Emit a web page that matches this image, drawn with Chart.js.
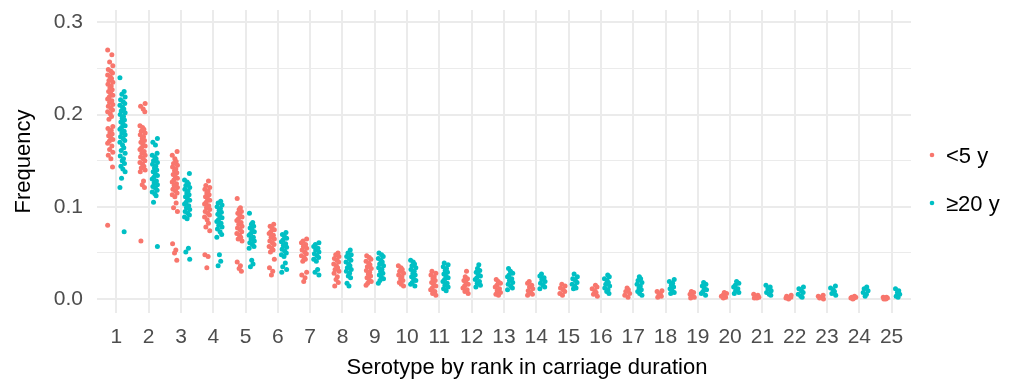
<!DOCTYPE html>
<html>
<head>
<meta charset="utf-8">
<script src="https://cdn.jsdelivr.net/npm/chart.js@4/dist/chart.umd.min.js"></script>
<style>
  html, body { margin: 0; padding: 0; background: #ffffff; }
  #wrap { width: 1012px; height: 381px; position: relative; }
</style>
</head>
<body>
<div id="wrap"><canvas id="chart" width="1012" height="381"></canvas></div>
<script>
// Serotype rank (x categories)
const ranks = [1, 2, 3, 4, 5, 6, 7, 8, 9, 10, 11, 12, 13, 14, 15, 16, 17, 18, 19, 20, 21, 22, 23, 24, 25];

// Simulated serotype frequencies, age group < 5 years (one list per rank)
const under5 = [
  [0.270, 0.265, 0.257, 0.253, 0.249, 0.247, 0.245, 0.243, 0.241, 0.239, 0.237, 0.235, 0.233, 0.231, 0.229, 0.227, 0.225, 0.223, 0.221, 0.219, 0.217, 0.215, 0.213, 0.211, 0.209, 0.207, 0.205, 0.203, 0.201, 0.198, 0.195, 0.187, 0.185, 0.183, 0.181, 0.179, 0.177, 0.175, 0.173, 0.171, 0.169, 0.166, 0.162, 0.159, 0.156, 0.152, 0.143, 0.080],
  [0.212, 0.209, 0.206, 0.203, 0.188, 0.186, 0.184, 0.182, 0.180, 0.178, 0.176, 0.174, 0.172, 0.170, 0.168, 0.166, 0.164, 0.162, 0.160, 0.158, 0.156, 0.154, 0.152, 0.150, 0.148, 0.146, 0.144, 0.142, 0.140, 0.138, 0.128, 0.124, 0.121, 0.063],
  [0.160, 0.156, 0.152, 0.149, 0.147, 0.145, 0.143, 0.141, 0.139, 0.137, 0.135, 0.133, 0.131, 0.129, 0.127, 0.125, 0.123, 0.121, 0.119, 0.117, 0.115, 0.113, 0.111, 0.104, 0.099, 0.095, 0.060, 0.053, 0.050, 0.042],
  [0.128, 0.123, 0.121, 0.119, 0.117, 0.115, 0.113, 0.111, 0.109, 0.107, 0.105, 0.103, 0.101, 0.099, 0.097, 0.095, 0.093, 0.091, 0.089, 0.086, 0.082, 0.078, 0.074, 0.048, 0.046, 0.034],
  [0.109, 0.099, 0.097, 0.095, 0.093, 0.091, 0.089, 0.087, 0.085, 0.083, 0.081, 0.079, 0.077, 0.075, 0.073, 0.071, 0.069, 0.067, 0.065, 0.063, 0.040, 0.036, 0.033, 0.030],
  [0.081, 0.079, 0.077, 0.075, 0.073, 0.071, 0.069, 0.067, 0.065, 0.063, 0.061, 0.059, 0.057, 0.055, 0.053, 0.051, 0.043, 0.034, 0.030, 0.026],
  [0.065, 0.063, 0.061, 0.059, 0.057, 0.055, 0.053, 0.051, 0.049, 0.047, 0.045, 0.043, 0.041, 0.029, 0.026, 0.023, 0.019],
  [0.050, 0.048, 0.046, 0.044, 0.042, 0.040, 0.038, 0.036, 0.034, 0.032, 0.030, 0.028, 0.024, 0.021, 0.018, 0.014],
  [0.047, 0.045, 0.043, 0.041, 0.039, 0.037, 0.035, 0.033, 0.031, 0.029, 0.027, 0.025, 0.023, 0.021, 0.019, 0.017, 0.015],
  [0.036, 0.034, 0.032, 0.030, 0.028, 0.026, 0.024, 0.022, 0.020, 0.018, 0.016, 0.014],
  [0.030, 0.028, 0.026, 0.024, 0.022, 0.020, 0.018, 0.016, 0.014, 0.012, 0.010, 0.008, 0.006, 0.004],
  [0.030, 0.024, 0.022, 0.020, 0.018, 0.016, 0.014, 0.012, 0.010, 0.008, 0.006],
  [0.021, 0.019, 0.017, 0.015, 0.013, 0.011, 0.009, 0.007, 0.005, 0.004],
  [0.019, 0.017, 0.015, 0.013, 0.011, 0.009, 0.007, 0.005, 0.004],
  [0.016, 0.014, 0.012, 0.010, 0.008, 0.006, 0.004],
  [0.015, 0.013, 0.011, 0.009, 0.007, 0.005, 0.003],
  [0.012, 0.010, 0.008, 0.006, 0.004, 0.002],
  [0.009, 0.008, 0.006, 0.005, 0.003, 0.002],
  [0.008, 0.007, 0.005, 0.004, 0.002, 0.001],
  [0.007, 0.006, 0.004, 0.003, 0.002, 0.001],
  [0.005, 0.004, 0.003, 0.002, 0.001, 0.001],
  [0.004, 0.003, 0.002, 0.002, 0.001, 0.000],
  [0.004, 0.003, 0.002, 0.002, 0.001, 0.000],
  [0.003, 0.002, 0.002, 0.001, 0.001, 0.000],
  [0.002, 0.002, 0.001, 0.001, 0.000, 0.000]
];

// Simulated serotype frequencies, age group >= 20 years (one list per rank)
const over20 = [
  [0.240, 0.225, 0.222, 0.219, 0.216, 0.214, 0.212, 0.210, 0.208, 0.206, 0.204, 0.202, 0.200, 0.198, 0.196, 0.194, 0.192, 0.190, 0.188, 0.186, 0.184, 0.182, 0.180, 0.178, 0.176, 0.174, 0.172, 0.170, 0.167, 0.164, 0.161, 0.158, 0.155, 0.152, 0.150, 0.147, 0.144, 0.141, 0.138, 0.131, 0.121, 0.073],
  [0.174, 0.170, 0.167, 0.158, 0.156, 0.154, 0.152, 0.150, 0.148, 0.146, 0.144, 0.142, 0.140, 0.138, 0.136, 0.134, 0.132, 0.130, 0.128, 0.126, 0.124, 0.122, 0.120, 0.118, 0.116, 0.114, 0.112, 0.105, 0.057],
  [0.136, 0.129, 0.127, 0.125, 0.123, 0.121, 0.119, 0.117, 0.115, 0.113, 0.111, 0.109, 0.107, 0.105, 0.103, 0.101, 0.099, 0.097, 0.095, 0.093, 0.091, 0.089, 0.087, 0.055, 0.051, 0.043],
  [0.106, 0.104, 0.102, 0.100, 0.098, 0.096, 0.094, 0.092, 0.090, 0.088, 0.086, 0.084, 0.082, 0.080, 0.078, 0.076, 0.073, 0.070, 0.067, 0.048, 0.041, 0.036],
  [0.093, 0.083, 0.081, 0.079, 0.077, 0.075, 0.073, 0.071, 0.069, 0.067, 0.065, 0.063, 0.061, 0.059, 0.057, 0.055, 0.042, 0.038, 0.035],
  [0.072, 0.070, 0.068, 0.066, 0.064, 0.062, 0.060, 0.058, 0.056, 0.054, 0.052, 0.050, 0.048, 0.046, 0.039, 0.035, 0.032, 0.029],
  [0.061, 0.059, 0.057, 0.055, 0.053, 0.051, 0.049, 0.047, 0.045, 0.043, 0.041, 0.032, 0.029, 0.026],
  [0.053, 0.050, 0.048, 0.046, 0.044, 0.042, 0.040, 0.038, 0.036, 0.034, 0.032, 0.030, 0.028, 0.025, 0.023, 0.017, 0.014],
  [0.050, 0.048, 0.046, 0.044, 0.042, 0.040, 0.038, 0.036, 0.034, 0.032, 0.030, 0.028, 0.026, 0.024, 0.022, 0.020, 0.017],
  [0.042, 0.040, 0.038, 0.036, 0.034, 0.032, 0.030, 0.028, 0.026, 0.024, 0.022, 0.020, 0.018, 0.016, 0.014],
  [0.039, 0.037, 0.035, 0.033, 0.031, 0.029, 0.027, 0.025, 0.023, 0.021, 0.019, 0.017, 0.015, 0.013, 0.011, 0.009],
  [0.037, 0.033, 0.031, 0.029, 0.027, 0.025, 0.023, 0.021, 0.019, 0.017, 0.015, 0.013],
  [0.033, 0.030, 0.028, 0.026, 0.024, 0.022, 0.020, 0.018, 0.016, 0.014, 0.012, 0.010],
  [0.027, 0.025, 0.023, 0.021, 0.019, 0.017, 0.015, 0.013, 0.011],
  [0.027, 0.024, 0.022, 0.020, 0.018, 0.016, 0.014, 0.012, 0.011],
  [0.026, 0.024, 0.022, 0.020, 0.018, 0.016, 0.014, 0.012, 0.010, 0.008, 0.006],
  [0.024, 0.022, 0.020, 0.018, 0.016, 0.014, 0.012, 0.010, 0.008, 0.006, 0.004],
  [0.021, 0.019, 0.017, 0.015, 0.013, 0.011, 0.009, 0.007, 0.006],
  [0.018, 0.016, 0.014, 0.012, 0.010, 0.008, 0.006, 0.004],
  [0.019, 0.017, 0.015, 0.013, 0.011, 0.009, 0.007, 0.006],
  [0.015, 0.013, 0.011, 0.009, 0.007, 0.005, 0.004],
  [0.013, 0.011, 0.009, 0.007, 0.005, 0.003, 0.002],
  [0.014, 0.012, 0.010, 0.008, 0.006, 0.004],
  [0.013, 0.011, 0.009, 0.007, 0.005, 0.003],
  [0.011, 0.009, 0.007, 0.005, 0.003, 0.002]
];

const groupLabels = ['<5 y', '\u226520 y'];
const groupColors = ['#F8766D', '#00BFC4'];

// Side-by-side placement of the two age groups within a rank, plus a fixed
// horizontal spread so overlapping points stay visible (x-axis units).
const dodge = [-0.19, 0.19];
const spread = [-0.08, 0.05, -0.02, 0.08, -0.06, 0.02, 0.07, -0.08, 0.0, 0.04, -0.04, 0.08, -0.07, 0.03, -0.01, 0.06, -0.05, 0.01, 0.08, -0.03];

const FONT = '"Liberation Sans", Arial, Helvetica, sans-serif';

function buildPoints(groupValues, g) {
  const pts = [];
  groupValues.forEach((vals, r) => {
    vals.forEach((v, i) => {
      pts.push({ x: ranks[r] + dodge[g] + spread[(i + r * 3) % spread.length], y: v });
    });
  });
  return pts;
}

const datasets = [under5, over20].map((vals, g) => ({
  label: groupLabels[g],
  data: buildPoints(vals, g),
  backgroundColor: groupColors[g],
  borderWidth: 0,
  pointRadius: 2.5,
  pointHoverRadius: 2.5
}));

// Axis titles and the legend drawn as canvas text
const annotations = {
  id: 'annotations',
  afterDraw(chart) {
    const ctx = chart.ctx;
    const area = chart.chartArea;
    ctx.save();
    ctx.fillStyle = '#000000';
    ctx.font = '22px ' + FONT;
    ctx.textAlign = 'center';
    ctx.textBaseline = 'alphabetic';
    ctx.fillText('Serotype by rank in carriage duration', 527, 374);

    ctx.translate(30, (area.top + area.bottom) / 2);
    ctx.rotate(-Math.PI / 2);
    ctx.fillText('Frequency', 0, 0);
    ctx.restore();

    ctx.save();
    ctx.font = '22px ' + FONT;
    ctx.textAlign = 'left';
    ctx.textBaseline = 'alphabetic';
    const rowsY = [155, 203];
    groupLabels.forEach((lab, g) => {
      ctx.fillStyle = groupColors[g];
      ctx.beginPath();
      ctx.arc(932, rowsY[g], 2.3, 0, Math.PI * 2);
      ctx.fill();
      ctx.fillStyle = '#000000';
      ctx.fillText(lab, 946, rowsY[g] + 8);
    });
    ctx.restore();
  }
};

new Chart(document.getElementById('chart'), {
  type: 'scatter',
  data: { datasets },
  options: {
    responsive: false,
    animation: false,
    devicePixelRatio: 1,
    layout: { padding: { top: 10, right: 101, left: 0, bottom: 0 } },
    plugins: { legend: { display: false }, tooltip: { enabled: false } },
    scales: {
      x: {
        type: 'linear',
        min: 0.4,
        max: 25.6,
        afterFit: (s) => { s.height = 68; s.paddingLeft = 0; s.paddingRight = 0; },
        border: { display: false },
        grid: { color: '#EBEBEB', lineWidth: 2, drawTicks: false },
        ticks: {
          stepSize: 1,
          includeBounds: false,
          autoSkip: false,
          maxRotation: 0,
          padding: 12,
          color: '#4D4D4D',
          font: { family: FONT, size: 21 },
          callback: (v) => ranks.includes(v) ? String(v) : ''
        }
      },
      y: {
        min: -0.0152,
        max: 0.3134,
        afterFit: (s) => { s.width = 97; s.paddingTop = 0; s.paddingBottom = 0; },
        border: { display: false },
        grid: {
          color: '#EBEBEB',
          drawTicks: false,
          lineWidth: (c) => {
            const v = c.tick ? c.tick.value : 0;
            return Math.abs(v * 10 - Math.round(v * 10)) < 1e-6 ? 2 : 1;
          }
        },
        ticks: {
          stepSize: 0.05,
          includeBounds: false,
          padding: 14,
          color: '#4D4D4D',
          font: { family: FONT, size: 21 },
          callback: (v) => Math.abs(v * 10 - Math.round(v * 10)) < 1e-6 ? v.toFixed(1) : ''
        }
      }
    }
  },
  plugins: [annotations]
});
</script>
</body>
</html>
